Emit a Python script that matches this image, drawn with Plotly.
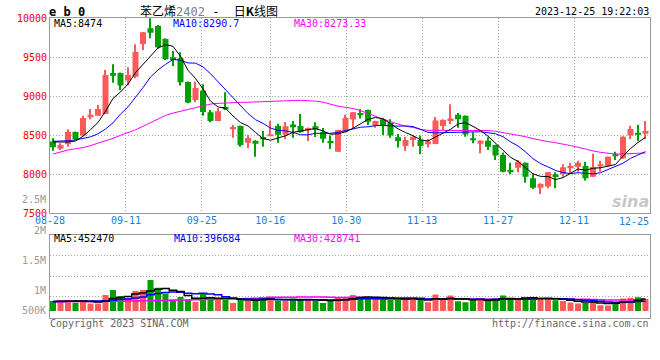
import numpy as np
import plotly.graph_objects as go

# ---------------- data ----------------
dates = ["08-28", "08-29", "08-30", "08-31",
         "09-01", "09-04", "09-05", "09-06", "09-07", "09-08", "09-11", "09-12", "09-13", "09-14", "09-15",
         "09-18", "09-19", "09-20", "09-21", "09-22", "09-25", "09-26", "09-27", "09-28",
         "10-09", "10-10", "10-11", "10-12", "10-13", "10-16", "10-17", "10-18", "10-19", "10-20",
         "10-23", "10-24", "10-25", "10-26", "10-27", "10-30", "10-31",
         "11-01", "11-02", "11-03", "11-06", "11-07", "11-08", "11-09", "11-10", "11-13", "11-14", "11-15",
         "11-16", "11-17", "11-20", "11-21", "11-22", "11-23", "11-24", "11-27", "11-28", "11-29", "11-30",
         "12-01", "12-04", "12-05", "12-06", "12-07", "12-08", "12-11", "12-12", "12-13", "12-14", "12-15",
         "12-18", "12-19", "12-20", "12-21", "12-22", "12-25"]

opens = [8419, 8329, 8384, 8543, 8496, 8743, 8752, 8773, 9299, 9299,
         9201, 9252, 9671, 9872, 9902, 9735, 9500, 9487, 9184, 8953,
         9070, 8795, 8684, 8863, 8585, 8620, 8406, 8431, 8478, 8495,
         8620, 8508, 8637, 8620, 8564, 8615, 8538, 8427, 8290, 8547,
         8701, 8786, 8825, 8620, 8705, 8662, 8474, 8363, 8440, 8440,
         8397, 8389, 8620, 8684, 8765, 8752, 8461, 8393, 8431, 8376,
         8248, 8055, 8085, 8149, 7948, 7829, 7842, 8000, 8000, 8077,
         8098, 8107, 7970, 8107, 8111, 8256, 8205, 8496, 8534, 8521]
highs = [8461, 8397, 8577, 8550, 8752, 8837, 8889, 9338, 9410, 9305,
         9372, 9667, 9825, 10020, 9914, 9745, 9581, 9564, 9190, 9188,
         9155, 8825, 8850, 9051, 8632, 8625, 8504, 8435, 8555, 8684,
         8649, 8671, 8684, 8773, 8600, 8667, 8594, 8496, 8572, 8765,
         8800, 8833, 8830, 8688, 8718, 8705, 8517, 8483, 8487, 8496,
         8453, 8735, 8705, 8897, 8786, 8755, 8538, 8435, 8474, 8380,
         8278, 8149, 8184, 8152, 8013, 7884, 8028, 8025, 8128, 8149,
         8175, 8162, 8265, 8175, 8229, 8290, 8487, 8624, 8632, 8684]
lows = [8303, 8312, 8354, 8440, 8490, 8705, 8750, 8770, 9175, 9081,
        9137, 9231, 9590, 9744, 9610, 9465, 9389, 9137, 8910, 8923,
        8750, 8667, 8680, 8825, 8470, 8354, 8333, 8226, 8354, 8490,
        8406, 8453, 8470, 8535, 8427, 8478, 8406, 8325, 8285, 8540,
        8590, 8714, 8632, 8598, 8504, 8470, 8342, 8299, 8354, 8260,
        8342, 8385, 8568, 8645, 8598, 8483, 8397, 8269, 8312, 8183,
        8025, 8000, 8025, 7893, 7812, 7748, 7820, 7820, 7970, 8013,
        8034, 7919, 7965, 8034, 8098, 8184, 8200, 8453, 8427, 8453]
closes = [8346, 8376, 8543, 8453, 8722, 8765, 8837, 9273, 9265, 9137,
          9273, 9568, 9820, 9816, 9628, 9474, 9466, 9179, 8919, 9107,
          8800, 8684, 8808, 8842, 8607, 8376, 8466, 8393, 8449, 8504,
          8508, 8615, 8615, 8538, 8594, 8572, 8457, 8406, 8568, 8722,
          8795, 8765, 8675, 8684, 8632, 8496, 8427, 8440, 8483, 8363,
          8419, 8690, 8696, 8714, 8705, 8510, 8444, 8431, 8354, 8240,
          8034, 8034, 8162, 7967, 7829, 7876, 8025, 7966, 8090, 8107,
          8149, 7948, 8094, 8120, 8226, 8243, 8483, 8581, 8508, 8555]
volumes = [400000, 424000, 424000, 360000, 400000, 344000, 344000, 544000, 664000, 520000,
           480000, 640000, 664000, 904000, 720000, 584000, 440000, 496000, 440000, 376000,
           584000, 488000, 464000, 440000, 352000, 464000, 400000, 456000, 488000, 424000,
           408000, 408000, 456000, 456000, 440000, 408000, 352000, 408000, 488000, 488000,
           544000, 504000, 472000, 448000, 472000, 472000, 424000, 440000, 472000, 424000,
           371000, 558390, 435000, 531000, 395000, 371000, 435000, 459000, 395000, 459000,
           531000, 451000, 451000, 483000, 483000, 451000, 451000, 419000, 403000, 363000,
           340000, 360000, 409490, 300000, 295000, 380000, 460000, 480350, 490000, 452000]

# moving-average values before enough in-window history exists
ma5_head = [8414, 8414, 8414, 8427]
ma10_head = [8423, 8425, 8430, 8440, 8460, 8480, 8520, 8580, 8660]
ma30_head = [8260, 8286, 8312, 8328, 8342, 8368, 8397, 8428, 8461, 8500,
             8530, 8570, 8615, 8665, 8715, 8755, 8785, 8808, 8835, 8862,
             8883, 8900, 8910, 8916, 8920, 8922, 8924, 8926, 8928]
vma5_head = [392000, 395000, 398000, 400000]
vma10_head = [390000, 392000, 394000, 396000, 398000, 400000, 402000, 408000, 420000]
vma30_head = [385000, 386000, 387000, 388000, 389000, 390000, 392000, 394000, 396000, 398000,
              400000, 402000, 405000, 408000, 412000, 416000, 420000, 424000, 428000, 432000,
              436000, 440000, 444000, 448000, 452000, 456000, 462000, 468000, 474000]

tick_labels = ["08-28", "09-11", "09-25", "10-16", "10-30", "11-13", "11-27", "12-11", "12-25"]
price_ticks = [7500, 8000, 8500, 9000, 9500, 10000]
vol_grid = [500000, 1000000, 1500000, 2000000]
vol_labels = ["2.5M", "2M", "1.5M", "1M", "500K"]

title_name = "苯乙烯"
title_code = "2402"
title_dash = " -  "
title_rest = ["日", "K", "线图"]
symbol = "e b 0"
timestamp = "2023-12-25 19:22:03"

# ---------------- styling constants ----------------
W, H = 660, 360
RED = "#FF5A5A"
GREEN = "#00A000"
GRID = "#AAAAAA"
BORDER = "#999999"
MONO = "DejaVu Sans Mono"
VOL_FLOOR = 160000

def fx(p):
    return p / W

def fy(p):
    return 1 - p / H

def moving_avg(vals, n, head):
    vals = np.asarray(vals, dtype=float)
    out = list(head)
    for i in range(len(head), len(vals)):
        out.append(vals[i - n + 1:i + 1].mean())
    return np.array(out)

def fmt(v):
    return f"{v:.2f}".rstrip("0").rstrip(".")

idx = np.arange(len(dates))
o = np.array(opens, float); c = np.array(closes, float)
h = np.array(highs, float); l = np.array(lows, float)
v = np.array(volumes, float)
up = c >= o
cols = np.where(up, RED, GREEN)

ma5 = moving_avg(closes, 5, ma5_head)
ma10 = moving_avg(closes, 10, ma10_head)
ma30 = moving_avg(closes, 30, ma30_head)
vma5 = moving_avg(volumes, 5, vma5_head)
vma10 = moving_avg(volumes, 10, vma10_head)
vma30 = moving_avg(volumes, 30, vma30_head)

tick_idx = [dates.index(t) for t in tick_labels]

fig = go.Figure()
# wicks
fig.add_trace(go.Bar(x=idx, y=h - l, base=l, width=0.14, marker=dict(color=cols, line=dict(width=0)),
                     xaxis="x", yaxis="y", hoverinfo="skip"))
# bodies
body = np.maximum(np.abs(c - o), 13)
fig.add_trace(go.Bar(x=idx, y=body, base=np.minimum(o, c), width=0.8,
                     marker=dict(color=cols, line=dict(width=0)), xaxis="x", yaxis="y"))
for ser, colr in [(ma30, "#FF00FF"), (ma10, "#0000FF"), (ma5, "#000000")]:
    fig.add_trace(go.Scatter(x=idx, y=ser, mode="lines", line=dict(color=colr, width=1),
                             xaxis="x", yaxis="y"))
# volume
fig.add_trace(go.Bar(x=idx, y=v - VOL_FLOOR, base=VOL_FLOOR, width=0.8,
                     marker=dict(color=cols, line=dict(width=0)), xaxis="x3", yaxis="y2"))
for ser, colr in [(vma30, "#FF00FF"), (vma10, "#0000FF"), (vma5, "#000000")]:
    fig.add_trace(go.Scatter(x=idx, y=ser, mode="lines", line=dict(color=colr, width=1.5, shape="hvh"),
                             xaxis="x3", yaxis="y2"))

xdom = [fx(50), fx(650)]
main_dom = [fy(213.3), fy(18.3)]
vol_dom = [fy(317.7), fy(234.5)]
xr = [-0.4, len(dates) - 0.4]
gr = [0, len(dates) - 1]
DOT = "1px,2px"

fig.update_layout(
    width=W, height=H, margin=dict(l=0, r=0, t=0, b=0, pad=0), autosize=False,
    paper_bgcolor="white", plot_bgcolor="white", showlegend=False, barmode="overlay",
    xaxis=dict(domain=xdom, range=xr, anchor="y", showgrid=False, zeroline=False, automargin=False,
               showticklabels=False, showline=True, mirror=True, linecolor=BORDER, linewidth=1),
    xaxis2=dict(overlaying="x", anchor="y", range=gr, tickvals=tick_idx[:-1], ticktext=tick_labels[:-1],
                showgrid=True, gridcolor=GRID, griddash=DOT, gridwidth=1, zeroline=False,
                automargin=False, showline=False, ticks="",
                tickfont=dict(family=MONO, size=10, color="#1C80D6")),
    yaxis=dict(domain=main_dom, range=[7500, 10000], anchor="x", tickvals=price_ticks,
               tickformat="d", automargin=False,
               showgrid=True, gridcolor=GRID, griddash=DOT, zeroline=False, ticks="",
               showline=True, mirror=True, linecolor=BORDER,
               tickfont=dict(family=MONO, size=10, color="#EE0000")),
    xaxis3=dict(domain=xdom, range=xr, anchor="y2", showgrid=False, zeroline=False, automargin=False,
                showticklabels=False, showline=True, mirror=True, linecolor=BORDER),
    xaxis4=dict(overlaying="x3", anchor="y2", range=gr, tickvals=tick_idx[:-1], automargin=False,
                showticklabels=False, showgrid=True, gridcolor=GRID, griddash=DOT,
                zeroline=False, showline=False, ticks=""),
    yaxis2=dict(domain=vol_dom, range=[0, 2000000], anchor="x3", tickvals=vol_grid, automargin=False,
                showticklabels=False, showgrid=True, gridcolor=GRID, griddash=DOT,
                zeroline=False, ticks="", showline=True, mirror=True, linecolor=BORDER),
)

ann = []
def text(x, y, s, color="#000", size=10, family=MONO, xanchor="left", xref="paper"):
    ann.append(dict(x=x, y=fy(y), xref=xref, yref="paper", text=s, showarrow=False,
                    xanchor=xanchor, yanchor="middle", borderpad=0,
                    font=dict(family=family, size=size, color=color)))

text(fx(48), 11.5, f"<b>{symbol}</b>", size=12)
title_html = (f"{title_name}<span style='font-family:{MONO};color:#808080'>{title_code}</span>"
              f"<span style='font-family:{MONO}'>{title_dash.replace(' ', '&nbsp;')}</span>"
              f"{title_rest[0]}<b>{title_rest[1]}</b>{title_rest[2]}")
text(fx(139), 10, title_html, size=12, family="Noto Sans CJK SC")
text(fx(650), 11.5, timestamp, xanchor="right")
text(fx(53), 24, f"MA5:{fmt(ma5[-1])}", "#000000")
text(fx(172), 24, f"MA10:{fmt(ma10[-1])}", "#0000FF")
text(fx(293), 24, f"MA30:{fmt(ma30[-1])}", "#FF00FF")
text(fx(53), 238.5, f"MA5:{vma5[-1]:.0f}", "#000000")
text(fx(173), 238.5, f"MA10:{vma10[-1]:.0f}", "#0000FF")
text(fx(293), 238.5, f"MA30:{vma30[-1]:.0f}", "#FF00FF")
for lab, py in zip(vol_labels, [199.5, 230.7, 260.7, 290.7, 310.7]):
    text(fx(47), py, lab, "#999999", xanchor="right")
text(tick_idx[-1], 221, tick_labels[-1], "#1C80D6", xanchor="right", xref="x2")
text(fx(49), 323, "Copyright 2023 SINA.COM", "#666666")
text(fx(650), 323, "http://finance.sina.com.cn", "#666666", xanchor="right")
text(fx(650), 201, "<b><i>sina</i></b>", "rgba(150,150,150,0.55)", size=16,
     family="DejaVu Sans", xanchor="right")
fig.update_layout(annotations=ann)

fig.write_html("out.html", config={"displayModeBar": False},
               post_script="document.body.style.margin='0px';")
